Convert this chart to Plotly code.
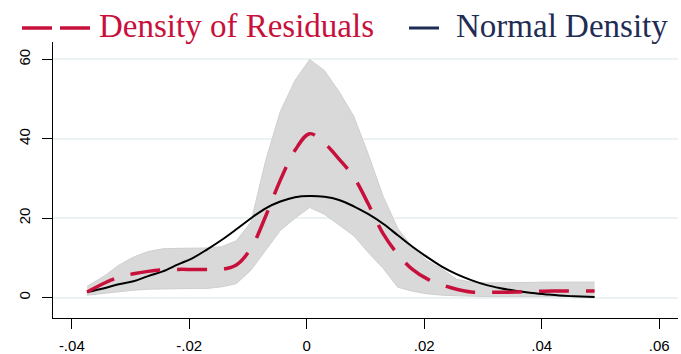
import plotly.graph_objects as go

# ---- data ----
x_vals = [-0.0374, -0.0345, -0.032, -0.0295, -0.027, -0.0245, -0.022, -0.0195, -0.017, -0.0145,
          -0.012, -0.0095, -0.007, -0.0045, -0.002, 0.0005, 0.003, 0.0055, 0.008, 0.0105,
          0.013, 0.0155, 0.018, 0.0205, 0.023, 0.0255, 0.028, 0.0305, 0.033, 0.0355,
          0.038, 0.0405, 0.043, 0.0455, 0.049]

resid_density = [1.4, 3.6, 5.1, 6.0, 6.6, 7.0, 7.1, 7.1, 7.1, 7.1,
                 8.2, 12.4, 20.5, 29.6, 37.1, 41.3, 38.9, 34.9, 30.4, 23.5,
                 16.1, 10.9, 7.1, 4.7, 3.2, 2.1, 1.4, 1.35, 1.35, 1.4,
                 1.6, 1.6, 1.65, 1.65, 1.65]

band_upper = [2.85, 5.4, 8.15, 10.2, 11.6, 12.3, 12.4, 12.5, 12.5, 12.8,
              14.3, 19.0, 34.5, 46.9, 54.7, 60.0, 57.2, 51.9, 45.7, 36.0,
              25.5, 17.4, 12.6, 9.3, 7.2, 4.6, 3.9, 3.7, 3.7, 3.7,
              3.8, 3.9, 3.9, 3.9, 3.9]

band_lower = [0.6, 1.1, 1.6, 1.85, 2.1, 2.2, 2.3, 2.3, 2.3, 2.7,
              3.5, 6.9, 11.9, 16.9, 20.0, 22.7, 21.0, 18.3, 15.6, 11.3,
              7.4, 2.6, 1.6, 0.95, 0.6, 0.45, 0.3, 0.25, 0.25, 0.25,
              0.25, 0.25, 0.25, 0.25, 0.25]

normal_density = [1.4, 2.35, 3.35, 4.1, 5.4, 6.6, 8.3, 9.9, 12.1, 14.5,
                  17.2, 20.0, 22.5, 24.2, 25.3, 25.6, 25.4, 24.6, 23.0, 21.0,
                  18.6, 15.7, 12.8, 10.2, 7.8, 5.9, 4.4, 3.2, 2.35, 1.7,
                  1.2, 0.83, 0.5, 0.33, 0.15]

x_tickvals = [-0.04, -0.02, 0, 0.02, 0.04, 0.06]
x_ticktext = ["-.04", "-.02", "0", ".02", ".04", ".06"]
y_tickvals = [0, 20, 40, 60]
y_ticktext = ["0", "20", "40", "60"]
legend_labels = ["Density of Residuals", "Normal Density"]

RED = "#C8103C"
NAVY = "#1F2D55"

W, H = 681, 354
ML, MR, MT, MB = 53, 3, 42, 36
PW, PH = W - ML - MR, H - MT - MB


def px_x(p):
    return (p - ML) / PW


def px_y(p):
    return (H - MB - p) / PH


fig = go.Figure()

# confidence band
fig.add_trace(go.Scatter(x=x_vals, y=band_lower, mode="lines",
                         line=dict(color="#CFCFCF", width=1), showlegend=False,
                         hoverinfo="skip"))
fig.add_trace(go.Scatter(x=x_vals, y=band_upper, mode="lines", fill="tonexty",
                         fillcolor="#D9D9D9",
                         line=dict(color="#CFCFCF", width=1), showlegend=False,
                         hoverinfo="skip"))

# normal density
fig.add_trace(go.Scatter(x=x_vals, y=normal_density, mode="lines", name=legend_labels[1],
                         line=dict(color="black", width=2, shape="spline"),
                         showlegend=False))

# residual density (dashed)
fig.add_trace(go.Scatter(x=x_vals, y=resid_density, mode="lines", name=legend_labels[0],
                         line=dict(color=RED, width=3.5, dash="30px,17px", shape="spline"),
                         showlegend=False))

# legend drawn above the plot (keys + labels)
key_y = px_y(28)
fig.add_shape(type="line", xref="paper", yref="paper",
              x0=px_x(22), x1=px_x(90), y0=key_y, y1=key_y,
              line=dict(color=RED, width=3.5, dash="30px,8px"))
fig.add_shape(type="line", xref="paper", yref="paper",
              x0=px_x(409), x1=px_x(439), y0=key_y, y1=key_y,
              line=dict(color=NAVY, width=3))
legend_font = dict(family="Liberation Serif", size=33)
fig.add_annotation(xref="paper", yref="paper", x=px_x(97), y=px_y(26),
                   xanchor="left", yanchor="middle", showarrow=False,
                   text=legend_labels[0], font=dict(color=RED, **legend_font))
fig.add_annotation(xref="paper", yref="paper", x=px_x(454), y=px_y(26),
                   xanchor="left", yanchor="middle", showarrow=False,
                   text=legend_labels[1], font=dict(color=NAVY, **legend_font))

fig.update_layout(
    width=W, height=H,
    margin=dict(l=ML, r=MR, t=MT, b=MB, autoexpand=False),
    paper_bgcolor="white", plot_bgcolor="white",
    showlegend=False,
    xaxis=dict(range=[-0.0432, 0.0632], tickvals=x_tickvals, ticktext=x_ticktext,
               automargin=False,
               showgrid=False, zeroline=False, showline=True, linecolor="black",
               linewidth=1.2, ticks="outside", ticklen=10, tickwidth=1.2, tickcolor="black",
               ticklabelstandoff=4,
               tickfont=dict(family="Liberation Sans", size=15, color="black")),
    yaxis=dict(range=[-5.15, 64.4], tickvals=y_tickvals, ticktext=y_ticktext,
               automargin=False,
               showgrid=True, gridcolor="#EAF2F3", gridwidth=1.5,
               zeroline=False, showline=True, linecolor="black", linewidth=1.2,
               ticks="outside", ticklen=10, tickwidth=1.2, tickcolor="black",
               tickangle=-90, ticklabelstandoff=6,
               tickfont=dict(family="Liberation Sans", size=15, color="black")),
)

fig.write_html("out.html",
               config={"displayModeBar": False},
               post_script="document.body.style.margin='0';document.body.style.padding='0';")
